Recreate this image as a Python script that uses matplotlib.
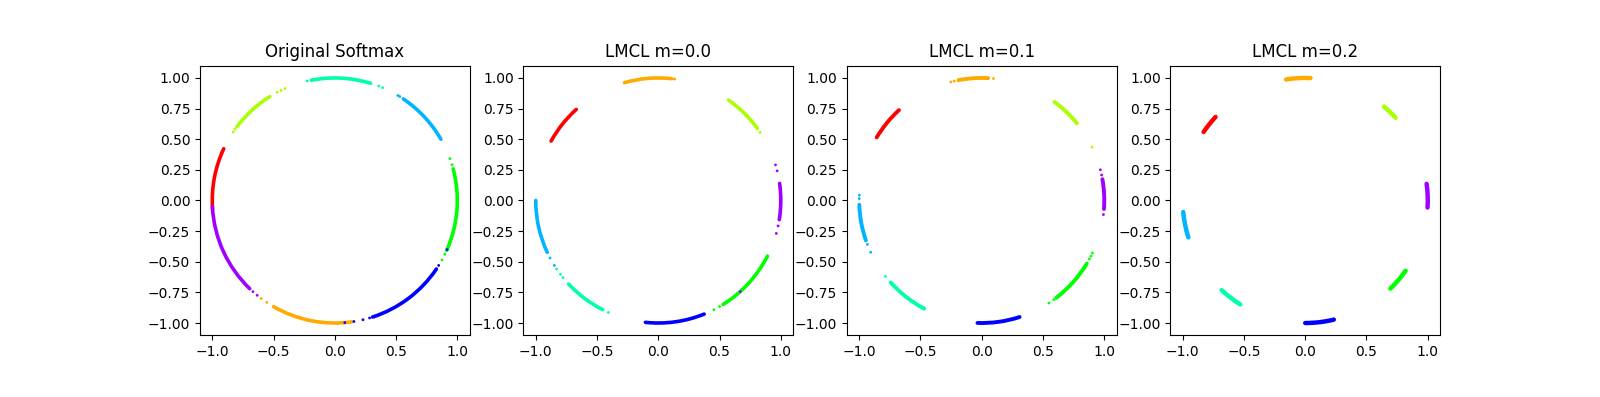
import numpy as np
import matplotlib
matplotlib.use('Agg')
import matplotlib.pyplot as plt
from matplotlib.patches import Arc

# class colours (8 classes)
colors = ['#ff0000', '#ffaa00', '#aaff00', '#00ff00',
          '#00ffaa', '#00b4ff', '#0000ff', '#9f00ff']

titles = ['Original Softmax', 'LMCL m=0.0', 'LMCL m=0.1', 'LMCL m=0.2']

# dense part of each class on the unit circle: (start, end) angle in degrees
# order: red, orange, yellow-green, green, spring-green, sky-blue, blue, purple
softmax_arcs = [(155, 184), (240, 278), (122, 143), (-24, 15),
                (73, 101), (30, 56), (-72, -34), (183, 226)]
lmcl0_arcs = [(132, 151), (84, 106), (36, 55), (-58, -27),
              (223, 243), (180, 205), (264, 292), (-9, 8)]
lmcl1_arcs = [(132.5, 149), (87, 101), (39, 53.5), (-52.6, -31),
              (222, 242), (182, 199), (268, 288), (-4, 10)]
lmcl2_arcs = [(137, 146), (87.5, 99), (42.5, 50), (-46, -35),
              (227, 238), (185.4, 197.5), (270, 283.5), (-3.3, 7.8)]

# loose points: (class, angle in degrees)
softmax_dots = [(4, 69), (4, 67), (4, 103), (5, 59), (5, 58),
                (3, 20), (3, 17), (3, -26), (3, -29),
                (6, -32), (6, -73.5), (6, -76.7), (6, -81), (6, -85.3), (6, -23.6),
                (1, -123.7), (1, -126.9), (1, -84),
                (7, -129.3), (7, -131.9),
                (2, 146), (2, 144.5), (2, 118), (2, 116), (2, 114)]
lmcl0_dots = [(1, 83), (1, 82.3), (2, 33.8),
              (7, 16.9), (7, 14), (7, -12), (7, -15.6), (7, -48),
              (3, -60), (3, -63),
              (4, -114), (4, -146), (4, -143), (4, -141),
              (5, -152), (5, -148)]
lmcl1_dots = [(1, 103), (1, 104.6), (1, 84.5), (2, 25.8),
              (7, 14.5), (7, 12), (7, -6.6),
              (3, -25.4), (3, -27), (3, -28.5), (3, -54), (3, -56.8),
              (4, -141.7),
              (5, 179.1), (5, 177.5), (5, -159), (5, -155)]
lmcl2_dots = []

all_arcs = [softmax_arcs, lmcl0_arcs, lmcl1_arcs, lmcl2_arcs]
all_dots = [softmax_dots, lmcl0_dots, lmcl1_dots, lmcl2_dots]
arc_width = [2.6, 2.6, 2.8, 3.2]

fig, axes = plt.subplots(1, 4, figsize=(16, 3.97))

for ax, title, arcs, dots, lw in zip(axes, titles, all_arcs, all_dots, arc_width):
    for c, (t1, t2) in enumerate(arcs):
        ax.add_patch(Arc((0, 0), 2, 2, theta1=t1, theta2=t2,
                         color=colors[c], lw=lw, capstyle='round'))
    if dots:
        cls = np.array([d[0] for d in dots])
        ang = np.radians([d[1] for d in dots])
        ax.scatter(np.cos(ang), np.sin(ang), s=4, linewidths=0,
                   c=[colors[k] for k in cls])
    ax.set_xlim(-1.1, 1.1)
    ax.set_ylim(-1.1, 1.1)
    ax.set_aspect('equal')
    ax.set_title(title)

plt.savefig('out.png', dpi=100)
